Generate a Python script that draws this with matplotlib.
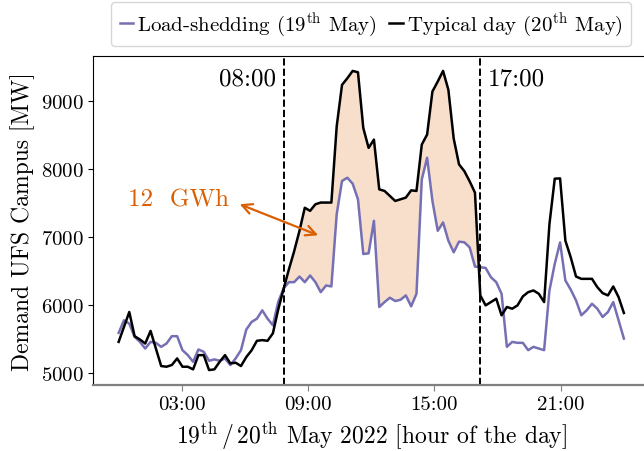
import numpy as np
import matplotlib
matplotlib.use("Agg")
import matplotlib.pyplot as plt

plt.rcParams['font.family'] = ['cmr10', 'DejaVu Serif']
plt.rcParams['mathtext.fontset'] = 'cm'
plt.rcParams['axes.formatter.use_mathtext'] = True

# 96 samples over the day (00:00 to 24:00)
hours = np.linspace(0, 24, 96)

shedding = [5586, 5772, 5723, 5528, 5454, 5356, 5454, 5440, 5381, 5430,
            5538, 5538, 5332, 5259, 5161, 5342, 5308, 5176, 5196, 5176,
            5210, 5113, 5210, 5332, 5635, 5748, 5796, 5919, 5796, 5699,
            6041, 6240, 6334, 6334, 6417, 6334, 6432, 6334, 6187, 6285,
            6271, 7336, 7825, 7873, 7785, 7555, 6749, 6759, 7238, 5968,
            6041, 6105, 6056, 6075, 6139, 5978, 6163, 7848, 8167, 7531,
            7091, 7214, 6945, 6774, 6931, 6921, 6847, 6564, 6554, 6544,
            6407, 6334, 6163, 5381, 5454, 5440, 5440, 5332, 5381, 5356,
            5332, 6212, 6603, 6920, 6359, 6225, 6065, 5846, 5919, 6016,
            5943, 5821, 5894, 6041, 5772, 5503]

typical = [5454, 5674, 5894, 5538, 5489, 5430, 5616, 5357, 5098, 5088,
           5113, 5210, 5088, 5088, 5049, 5259, 5259, 5039, 5049, 5161,
           5259, 5137, 5147, 5098, 5230, 5330, 5470, 5480, 5470, 5580,
           5930, 6230, 6520, 6790, 7090, 7430, 7385, 7482, 7507, 7507,
           7507, 8630, 9241, 9339, 9447, 9427, 8606, 8313, 8435, 7702,
           7678, 7604, 7531, 7555, 7580, 7687, 7678, 8362, 8509, 9144,
           9291, 9447, 9168, 8450, 8070, 7970, 7820, 7653, 6139, 5992,
           6041, 6090, 5846, 5968, 5943, 5992, 6124, 6187, 6212, 6163,
           6041, 7189, 7859, 7863, 6945, 6701, 6417, 6383, 6383, 6383,
           6261, 6173, 6139, 6271, 6114, 5880]

shed_start, shed_end = 31, 68  # sample index of load-shedding window
tick_hours = [3, 9, 15, 21]
tick_labels = ['03:00', '09:00', '15:00', '21:00']

purple = '#7570b3'
orange = '#d95f02'

fig = plt.figure(figsize=(6.44, 4.52), dpi=100)
ax = fig.add_axes([0.145, 0.146, 0.863, 0.728])

ax.plot(hours, shedding, c=purple, lw=1.8, label=r'Load-shedding (19$^{\mathrm{th}}$ May)')
ax.plot(hours, typical, c='black', lw=1.8, label=r'Typical day (20$^{\mathrm{th}}$ May)')

w = slice(shed_start, shed_end + 1)
ax.fill_between(hours[w], np.array(shedding)[w], np.array(typical)[w],
                color=orange, alpha=0.2, lw=0)

ax.axvline(hours[shed_start], color='black', ls='--', lw=1.4)
ax.axvline(hours[shed_end], color='black', ls='--', lw=1.4)
ax.text(hours[shed_start] - 0.35, 9330, '08:00', fontsize=18, ha='right', va='center')
ax.text(hours[shed_end] + 0.35, 9330, '17:00', fontsize=18, ha='left', va='center')

ax.annotate('12  GWh', xy=(9.6, 7010), xytext=(2.85, 7560), fontsize=18,
            color=orange, ha='center', va='center',
            arrowprops=dict(arrowstyle='<->', color=orange, lw=1.6,
                            relpos=(1.0, 0.45), shrinkA=6))

ax.set_xticks(tick_hours)
ax.set_xticklabels(tick_labels)
ax.set_yticks([5000, 6000, 7000, 8000, 9000])
ax.tick_params(axis='both', labelsize=15)
ax.tick_params(axis='x', color='gray', length=4)
ax.tick_params(axis='y', length=3.5)

ax.spines['bottom'].set_color('gray')
ax.spines['bottom'].set_linewidth(1.6)
ax.spines['right'].set_visible(False)

ax.set_xlabel(r'19$^{\mathrm{th}}\,/\,$20$^{\mathrm{th}}$ May 2022 [hour of the day]', fontsize=17)
ax.set_ylabel('Demand UFS Campus [MW]', fontsize=17)

ax.legend(loc='lower center', bbox_to_anchor=(0.5, 1.01), ncol=2, fontsize=15,
          handlelength=0.65, handletextpad=0.2, columnspacing=0.6,
          borderaxespad=0.3, frameon=True)

plt.savefig('out.png', dpi=100)
